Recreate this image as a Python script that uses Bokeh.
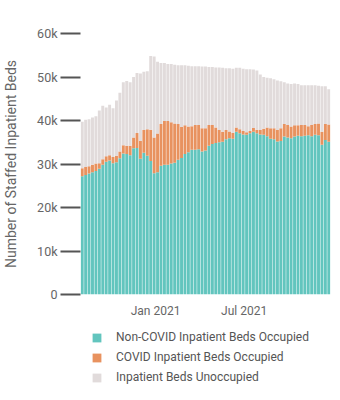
import datetime as dt
from bokeh.plotting import figure
from bokeh.layouts import column
from bokeh.models import ColumnDataSource, FixedTicker, Legend, LegendItem
from bokeh.embed import file_html
from bokeh.resources import INLINE

# Weekly values, thousands of staffed inpatient beds
start_date = dt.datetime(2020, 8, 4)

non_covid_k = [27.2, 27.5, 27.8, 28.1, 28.4, 28.9, 29.8, 30.5, 30.8, 30.2,
               30.4, 31.3, 32.4, 32.3, 32.0, 33.6, 33.7, 31.2, 32.6, 31.9,
               30.7, 27.9, 28.1, 29.6, 29.8, 29.8, 30.1, 30.3, 31.0, 31.4,
               32.3, 32.7, 33.3, 33.3, 33.4, 32.9, 33.1, 34.2, 34.6, 34.8,
               35.0, 35.1, 35.7, 35.9, 35.8, 37.4, 37.05, 36.8, 36.7, 37.05,
               37.4, 37.05, 36.8, 36.7, 36.4, 35.8, 35.7, 35.2, 35.3, 36.3,
               36.1, 35.9, 36.3, 36.5, 36.4, 36.5, 36.6, 36.4, 36.7, 36.6,
               34.4, 35.5, 35.1]

occupied_k = [29.0, 29.3, 29.5, 29.8, 30.1, 30.2, 31.1, 31.8, 32.0, 31.6,
              31.9, 32.9, 34.3, 34.2, 34.2, 36.1, 37.1, 35.3, 37.8, 38.0,
              37.9, 36.1, 37.0, 39.2, 39.9, 39.9, 39.6, 39.3, 39.2, 38.5,
              38.9, 38.6, 38.7, 38.95, 38.95, 38.2, 38.2, 38.95, 38.95, 38.4,
              37.8, 37.4, 37.8, 37.5, 37.2, 38.4, 38.0, 37.6, 37.3, 37.6,
              38.3, 37.9, 37.8, 38.1, 38.4, 38.2, 38.2, 37.8, 38.2, 39.2,
              38.95, 38.6, 38.9, 38.9, 38.95, 38.95, 38.7, 38.95, 39.2, 39.3,
              37.4, 39.2, 39.1]

total_k = [39.7, 40.2, 40.3, 40.7, 41.0, 42.3, 43.4, 43.0, 43.6, 42.8,
           44.6, 46.4, 48.8, 49.1, 48.8, 50.0, 50.9, 50.8, 51.2, 51.3,
           54.8, 54.7, 53.5, 53.2, 53.2, 53.0, 53.0, 52.8, 52.7, 52.7,
           52.7, 52.6, 52.5, 52.5, 52.5, 52.4, 52.4, 52.3, 52.3, 52.2,
           52.2, 52.1, 52.0, 52.0, 51.9, 52.1, 52.1, 51.9, 51.8, 51.8,
           51.7, 51.5, 50.6, 50.0, 49.8, 49.7, 49.5, 49.2, 49.0, 48.8,
           48.5, 48.4, 48.5, 48.4, 48.1, 48.1, 48.1, 48.1, 48.1, 48.0,
           47.9, 47.9, 47.2]

series_names = ["Non-COVID Inpatient Beds Occupied",
                "COVID Inpatient Beds Occupied",
                "Inpatient Beds Unoccupied"]
y_ticks = [0, 10000, 20000, 30000, 40000, 50000, 60000]
y_tick_labels = ["0", "10k", "20k", "30k", "40k", "50k", "60k"]
x_tick_dates = [dt.datetime(2021, 1, 1), dt.datetime(2021, 7, 1)]
x_tick_labels = ["Jan 2021", "Jul 2021"]

colors = ["#62c5be", "#e8925f", "#e1dbdb"]

dates = [start_date + dt.timedelta(days=7 * i) for i in range(len(total_k))]
non_covid = [v * 1000 for v in non_covid_k]
covid = [(o - n) * 1000 for o, n in zip(occupied_k, non_covid_k)]
unocc = [(t - o) * 1000 for t, o in zip(total_k, occupied_k)]

src = ColumnDataSource(dict(date=dates, a=non_covid, b=covid, c=unocc))

day = dt.timedelta(days=1)
p = figure(width=340, height=320, x_axis_type="datetime",
           x_range=(dates[0] - 3.5 * day, dates[-1] + 3.5 * day),
           y_range=(0, 60000), output_backend="svg", toolbar_location=None,
           min_border_left=78, min_border_right=10, min_border_top=33,
           min_border_bottom=24)
p.outline_line_color = None
p.grid.visible = False

rs = p.vbar_stack(["a", "b", "c"], x="date", width=6 * 24 * 3600 * 1000,
                  source=src, color=colors, line_color=None)

font = "Roboto"
yax = p.yaxis[0]
yax.ticker = FixedTicker(ticks=y_ticks)
yax.major_label_overrides = {t: l for t, l in zip(y_ticks, y_tick_labels)}
yax.axis_line_color = None
yax.major_tick_out = 20
yax.major_tick_in = 0
yax.major_tick_line_width = 2
yax.major_tick_line_color = "#555555"
yax.minor_tick_line_color = None
yax.major_label_standoff = 3
yax.major_label_text_font = font
yax.major_label_text_font_size = "12.5px"
yax.major_label_text_color = "#666666"
yax.axis_label = "Number of Staffed Inpatient Beds"
yax.axis_label_text_font = font
yax.axis_label_text_font_size = "14px"
yax.axis_label_text_font_style = "normal"
yax.axis_label_text_color = "#666666"
yax.axis_label_standoff = 15

xms = [d.timestamp() * 1000 for d in x_tick_dates]
xax = p.xaxis[0]
xax.ticker = FixedTicker(ticks=xms)
xax.major_label_overrides = {t: l for t, l in zip(xms, x_tick_labels)}
xax.axis_line_color = None
xax.major_tick_line_color = None
xax.minor_tick_line_color = None
xax.major_label_standoff = 3
xax.major_label_text_font = font
xax.major_label_text_font_size = "12px"
xax.major_label_text_color = "#666666"

# Legend panel below the chart (swatch renderers are zero-height bars)
lf = figure(width=340, height=80, output_backend="svg", toolbar_location=None,
            x_axis_location=None, y_axis_location=None, min_border=0,
            x_range=(0, 1), y_range=(0, 1))
lf.outline_line_color = None
lf.grid.visible = False
swatches = [lf.vbar(x=[0.5], top=[0], bottom=[0], width=0.1, fill_color=c,
                    line_color=None) for c in colors]
legend = Legend(items=[LegendItem(label=n, renderers=[r]) for n, r in zip(series_names, swatches)],
                location=(11, 13), orientation="vertical",
                border_line_color=None, background_fill_alpha=0,
                glyph_width=11, glyph_height=11, label_height=20,
                label_standoff=14, spacing=0, padding=0, margin=0,
                label_text_font=font, label_text_font_size="12px",
                label_text_color="#555555")
lf.add_layout(legend, "center")

layout = column(p, lf, spacing=0)
open("out.html", "w").write(file_html(layout, INLINE))
